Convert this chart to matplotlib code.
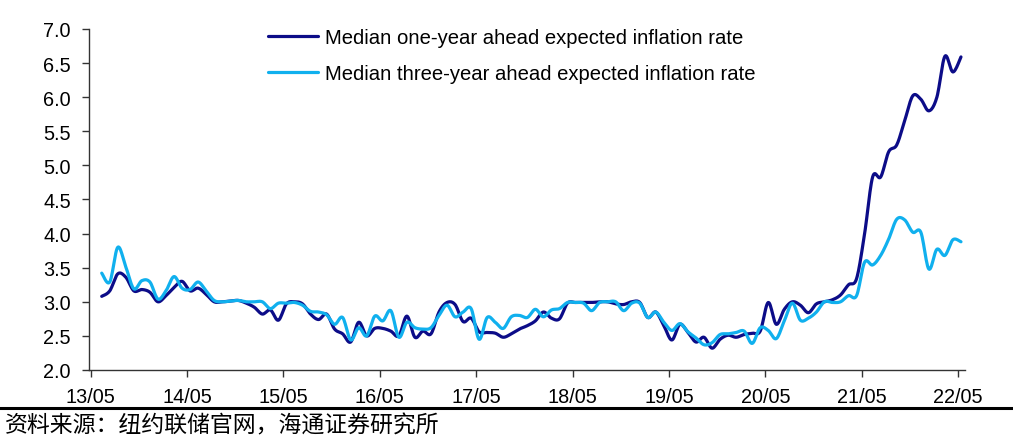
import numpy as np
import matplotlib
matplotlib.use("Agg")
import matplotlib.pyplot as plt
from matplotlib.lines import Line2D

# NY Fed Survey of Consumer Expectations, monthly, 2013/06 - 2022/05
start_month = "2013-06"
one_year = [
    3.08, 3.16, 3.41, 3.36, 3.16, 3.18, 3.14, 3.00, 3.09, 3.21,
    3.30, 3.16, 3.20, 3.11, 3.00, 3.00, 3.01, 3.02, 2.98, 2.92,
    2.82, 2.88, 2.73, 2.97, 3.00, 2.97, 2.82, 2.74, 2.82, 2.60,
    2.53, 2.41, 2.70, 2.50, 2.61, 2.61, 2.57, 2.50, 2.79, 2.48,
    2.57, 2.53, 2.85, 2.99, 2.96, 2.71, 2.76, 2.56, 2.55, 2.54,
    2.48, 2.53, 2.60, 2.65, 2.72, 2.85, 2.76, 2.75, 2.98, 2.99,
    2.99, 2.99, 3.00, 3.00, 2.97, 2.96, 3.00, 2.99, 2.77, 2.85,
    2.65, 2.44, 2.67, 2.55, 2.41, 2.48, 2.32, 2.45, 2.51, 2.48,
    2.52, 2.54, 2.57, 2.99, 2.67, 2.89, 3.00, 2.95, 2.84, 2.97,
    3.00, 3.03, 3.10, 3.25, 3.34, 4.00, 4.83, 4.83, 5.20, 5.30,
    5.66, 6.02, 5.97, 5.80, 6.00, 6.60, 6.37, 6.59,
]
three_year = [
    3.42, 3.29, 3.80, 3.51, 3.19, 3.31, 3.29, 3.04, 3.16, 3.37,
    3.20, 3.18, 3.29, 3.16, 3.02, 3.00, 3.01, 3.02, 3.00, 3.00,
    3.00, 2.90, 2.98, 2.98, 2.99, 2.95, 2.86, 2.85, 2.81, 2.67,
    2.77, 2.44, 2.62, 2.50, 2.79, 2.72, 2.87, 2.48, 2.70, 2.62,
    2.60, 2.62, 2.80, 2.95, 2.78, 2.85, 2.90, 2.45, 2.77, 2.70,
    2.61, 2.78, 2.80, 2.77, 2.89, 2.78, 2.88, 2.90, 2.99, 2.99,
    2.98, 2.87, 2.99, 3.00, 3.00, 2.87, 2.98, 2.98, 2.77, 2.85,
    2.70, 2.58, 2.68, 2.56, 2.47, 2.37, 2.40, 2.52, 2.53, 2.55,
    2.57, 2.39, 2.62, 2.58, 2.46, 2.72, 2.98, 2.73, 2.76, 2.85,
    3.00, 2.99, 3.00, 3.09, 3.09, 3.58, 3.54, 3.68, 3.92, 4.21,
    4.20, 4.02, 4.02, 3.48, 3.77, 3.68, 3.91, 3.88,
]
tick_labels = ["13/05", "14/05", "15/05", "16/05", "17/05",
               "18/05", "19/05", "20/05", "21/05", "22/05"]
series_names = ["Median one-year ahead expected inflation rate",
                "Median three-year ahead expected inflation rate"]
source_note = "资料来源：纽约联储官网，海通证券研究所"

DARK = "#0c0c88"
LIGHT = "#10b0ee"


def smooth(y, steps=12):
    """Cardinal (Catmull-Rom) Bezier smoothing through every point."""
    y = np.asarray(y, float)
    x = np.arange(len(y), dtype=float)
    px = np.concatenate([[x[0]], x, [x[-1]]])
    py = np.concatenate([[y[0]], y, [y[-1]]])
    xs, ys = [], []
    t = np.linspace(0, 1, steps, endpoint=False)
    for i in range(1, len(px) - 2):
        p0 = np.array([px[i], py[i]])
        p3 = np.array([px[i + 1], py[i + 1]])
        c1 = p0 + (np.array([px[i + 1], py[i + 1]]) - np.array([px[i - 1], py[i - 1]])) / 6
        c2 = p3 - (np.array([px[i + 2], py[i + 2]]) - p0) / 6
        b = ((1 - t) ** 3)[:, None] * p0 + (3 * (1 - t) ** 2 * t)[:, None] * c1 \
            + (3 * (1 - t) * t ** 2)[:, None] * c2 + (t ** 3)[:, None] * p3
        xs.append(b[:, 0])
        ys.append(b[:, 1])
    xs.append([x[-1]])
    ys.append([y[-1]])
    return np.concatenate(xs), np.concatenate(ys)


plt.rcParams["font.family"] = ["Liberation Sans", "DejaVu Sans"]
FS = 14.3
LEG_FS = 14.6

fig = plt.figure(figsize=(10.13, 4.39), dpi=100)
ax = fig.add_axes([0.0879, 0.1549, 0.8647, 0.7768])

for vals, col, name in [(one_year, DARK, series_names[0]),
                        (three_year, LIGHT, series_names[1])]:
    sx, sy = smooth(vals)
    ax.plot(sx, sy, color=col, lw=2.3, label=name, solid_capstyle="round")

ax.set_ylim(2.0, 7.0)
ax.set_xlim(-1.58, 107.5)
yt = np.arange(2.0, 7.01, 0.5)
ax.set_yticks(yt)
ax.set_yticklabels([f"{v:.1f}" for v in yt], fontsize=FS)

tick_pos = np.arange(len(tick_labels)) * 12 - 1.37
ax.set_xticks(tick_pos)
ax.set_xticklabels(tick_labels, fontsize=FS)

for s in ["top", "right"]:
    ax.spines[s].set_visible(False)
for s in ["left", "bottom"]:
    ax.spines[s].set_color("#333333")
    ax.spines[s].set_linewidth(1.0)
ax.tick_params(axis="both", direction="out", length=5, width=1.0,
               color="#333333", labelcolor="black")
ax.tick_params(axis="y", pad=8)
ax.tick_params(axis="x", pad=7)

leg = ax.legend(loc="upper left", bbox_to_anchor=(268 / 1013, 1 - 29 / 439),
                bbox_transform=fig.transFigure, frameon=False, fontsize=LEG_FS,
                handlelength=2.45, handletextpad=0.35, labelspacing=0.82,
                borderpad=0, borderaxespad=0)

fig.add_artist(Line2D([0, 1], [1 - 409 / 439] * 2, color="black", lw=2.2,
                      transform=fig.transFigure))
fig.text(5 / 1013, 1 - 426 / 439, source_note, fontsize=16.5,
         family=["Noto Sans CJK SC", "DejaVu Sans"], va="center", ha="left")

fig.savefig("out.png", dpi=100)
